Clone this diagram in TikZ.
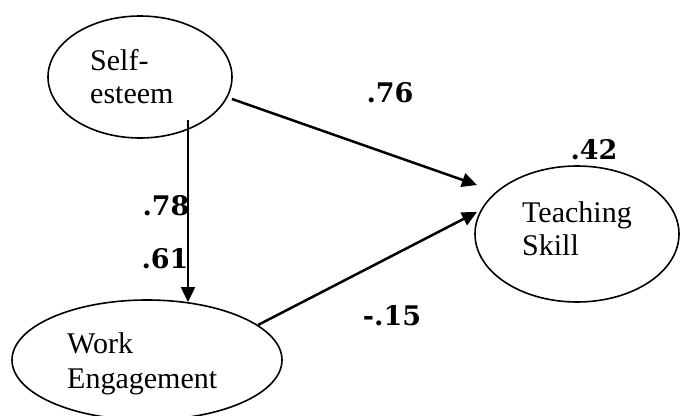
\documentclass[tikz,border=0pt]{standalone}
\usepackage{fontspec}
\setmainfont{Liberation Serif}
\newfontfamily\coeffont{DejaVu Serif}
\usetikzlibrary{shapes.geometric,arrows.meta}

\tikzset{
  latent/.style={draw, ellipse, line width=1.6pt, inner sep=0pt},
  nametext/.style={anchor=base west, inner sep=0pt, font=\fontsize{30}{33}\selectfont},
  coef/.style={inner sep=0pt, font=\coeffont\bfseries\fontsize{27}{30}\selectfont},
  path/.style={line width=2.5pt, -{Triangle[length=15pt,width=14pt]}}
}

\begin{document}
\begin{tikzpicture}[x=1pt,y=-1pt]
  \useasboundingbox (0,0) rectangle (680,415);

  % latent variables
  \node[latent, minimum width=184pt, minimum height=122pt] (se) at (140,77) {};
  \node[latent, minimum width=204pt, minimum height=136pt] (ts) at (577,234) {};
  \node[latent, minimum width=270pt, minimum height=120pt] (we) at (147,360) {};

  % variable names
  \node[nametext] (se1) at (90,70) {Self-};
  \node[nametext] (se2) at (90,103) {esteem};
  \node[nametext] (ts1) at (522,222) {Teaching};
  \node[nametext] (ts2) at (522,255) {Skill};
  \node[nametext] (we1) at (67,353) {Work};
  \node[nametext] (we2) at (67,388) {Engagement};

  % path end points
  \coordinate (seFoot) at (188,120);
  \coordinate (seRight) at (232,99);
  \coordinate (weTop) at (188,302);
  \coordinate (weRight) at (258,325);
  \coordinate (tsUpper) at (477,185);
  \coordinate (tsLower) at (477,212);

  % structural paths
  \draw[path] (seFoot) -- (weTop);
  \draw[path] (seRight) -- (tsUpper);
  \draw[path] (weRight) -- (tsLower);

  % coefficients
  \node[coef] (c76) at (390,93) {.76};
  \node[coef] (c42) at (594,150) {.42};
  \node[coef] (c78) at (166,206) {.78};
  \node[coef] (c61) at (165,259) {.61};
  \node[coef] (c15) at (392,316) {-.15};
\end{tikzpicture}
\end{document}
